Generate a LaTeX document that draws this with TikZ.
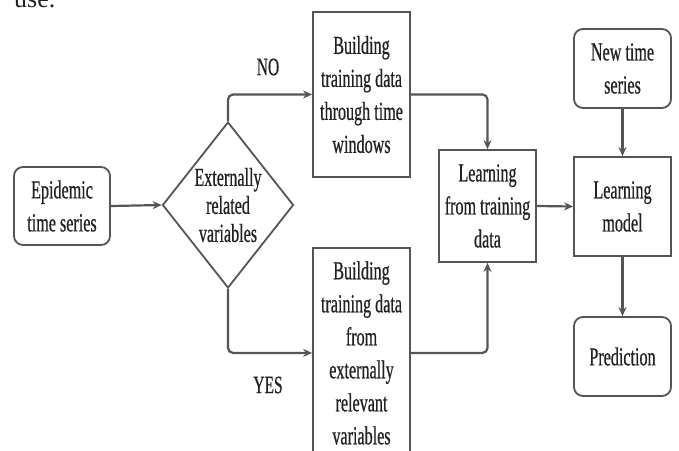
\documentclass[tikz,border=0pt]{standalone}
\usepackage{fontspec}
\setmainfont[FakeStretch=0.62,FakeBold=0.6]{Liberation Serif}
\newfontfamily\plainserif{Liberation Serif}
\usetikzlibrary{shapes.geometric,arrows.meta}
\definecolor{ln}{HTML}{555555}
\definecolor{tx}{HTML}{222222}
\begin{document}
\begin{tikzpicture}[x=1pt,y=-1pt,
  box/.style={draw=ln, line width=1.8pt, text=tx, align=center, inner sep=0pt, font=\fontsize{26}{33}\selectfont},
  rbox/.style={box, rounded corners=9pt},
  conn/.style={draw=ln, line width=2.2pt, -{Stealth[length=9pt,width=8pt]}, rounded corners=5pt},
  lbl/.style={text=tx, inner sep=0pt, font=\fontsize{25}{28}\selectfont}]
\useasboundingbox (0,0) rectangle (679,450);
\clip (0,0) rectangle (679,450);
\fill[white] (0,0) rectangle (679,450);
\node[anchor=base west, text=tx, font=\plainserif\fontsize{26}{30}\selectfont, inner sep=0pt] (use) at (14,7) {use.};
\node[rbox, minimum width=96pt, minimum height=78pt] (epi) at (62,206) {Epidemic\\time series};
\node[diamond, draw=ln, line width=1.8pt, minimum width=131pt, minimum height=166pt, inner sep=0pt] (dia) at (228,205) {};
\node[text=tx, align=center, inner sep=0pt, font=\fontsize{26}{28}\selectfont] (diat) at (dia.center) {Externally\\related\\variables};
\node[box, minimum width=97pt, minimum height=165pt] (tw) at (361.5,94.5) {Building\\training data\\through time\\windows};
\node[box, minimum width=97pt, minimum height=210pt, anchor=north] (ev) at (361.5,247) {Building\\training data\\from\\externally\\relevant\\variables};
\node[box, minimum width=97pt, minimum height=112pt] (lt) at (487.5,206) {Learning\\from training\\data};
\node[rbox, minimum width=97pt, minimum height=79pt] (nts) at (622.5,68.5) {New time\\series};
\node[box, minimum width=97pt, minimum height=99pt] (lm) at (622.5,206.5) {Learning\\model};
\node[rbox, minimum width=97pt, minimum height=79pt] (pr) at (622.5,356.5) {Prediction};
\node[lbl] (no) at (268,67) {NO};
\node[lbl] (yes) at (268,385) {YES};
\draw[conn] (epi.east) -- (dia.west);
\draw[conn] (dia.north) |- (tw.west);
\draw[conn] (dia.south) |- (ev.west);
\draw[conn] (tw.east) -| (lt.north);
\draw[conn] (ev.east) -| (lt.south);
\draw[conn] (lt.east) -- (lm.west);
\draw[conn] (nts.south) -- (lm.north);
\draw[conn] (lm.south) -- (pr.north);
\end{tikzpicture}
\end{document}
